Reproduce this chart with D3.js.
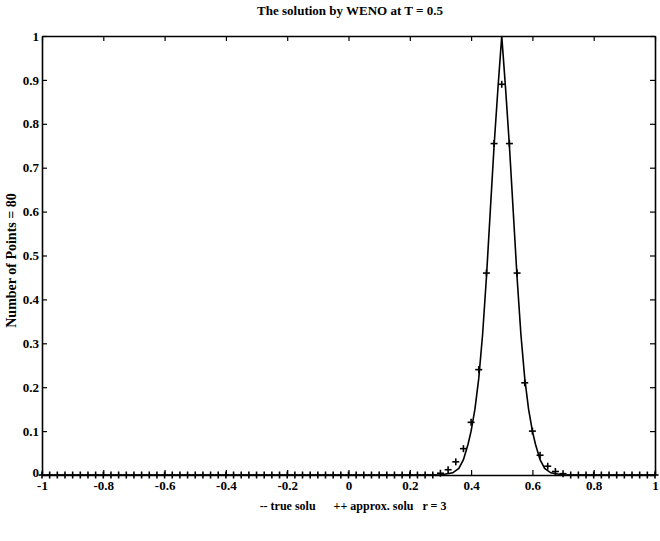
<!DOCTYPE html>
<html><head><meta charset="utf-8">
<script src="https://cdn.jsdelivr.net/npm/d3@7"></script>
<style>body{margin:0;background:#fff}svg{display:block}text{font-family:"Liberation Serif","Times New Roman",serif;fill:#000}</style>
</head><body>
<script>
// approximate solution sample points (x grid)
const approxX = d3.range(0, 81).map(j => -1 + j * 0.025);
const approxNonZero = {
  "0.300": 0.004, "0.325": 0.012, "0.350": 0.03, "0.375": 0.06, "0.400": 0.12,
  "0.425": 0.24, "0.450": 0.46, "0.475": 0.755, "0.500": 0.89,
  "0.525": 0.755, "0.550": 0.46, "0.575": 0.21, "0.600": 0.10, "0.625": 0.045,
  "0.650": 0.02, "0.675": 0.008, "0.700": 0.003
};
const approxY = approxX.map(x => approxNonZero[x.toFixed(3)] || 0);

// true solution curve points
const trueX = [-1, 0.30, 0.34, 0.36, 0.375, 0.39, 0.40, 0.4125, 0.425, 0.4375, 0.45, 0.4625, 0.475, 0.4875, 0.5,
               0.5125, 0.525, 0.5375, 0.55, 0.5625, 0.575, 0.5875, 0.60, 0.61, 0.625, 0.64, 0.66, 0.70, 1];
const trueY = [0, 0, 0.005, 0.015, 0.035, 0.07, 0.10, 0.15, 0.22, 0.32, 0.45, 0.60, 0.75, 0.88, 1.0,
               0.88, 0.75, 0.60, 0.45, 0.32, 0.22, 0.15, 0.10, 0.07, 0.035, 0.015, 0.005, 0, 0];

const xTicks = [-1, -0.8, -0.6, -0.4, -0.2, 0, 0.2, 0.4, 0.6, 0.8, 1];
const yTicks = [0, 0.1, 0.2, 0.3, 0.4, 0.5, 0.6, 0.7, 0.8, 0.9, 1];

const titleText = "The solution by WENO at T = 0.5";
const yLabelText = "Number of Points = 80";
const xLabelText = "-- true solu      ++ approx. solu   r = 3";

const W = 660, H = 541;
const m = {left: 42, right: 5, top: 36, bottom: 66};
const svg = d3.select("body").append("svg").attr("width", W).attr("height", H);

const x = d3.scaleLinear().domain([-1, 1]).range([m.left, W - m.right]);
const y = d3.scaleLinear().domain([0, 1]).range([H - m.bottom, m.top]);

const fmt = d => String(d);
const tl = 5;

// axes (ticks inward, box style)
const gB = svg.append("g").attr("transform", `translate(0,${H - m.bottom})`)
  .call(d3.axisBottom(x).tickValues(xTicks).tickFormat(fmt).tickSizeInner(-tl).tickSizeOuter(0).tickPadding(6));
const gT = svg.append("g").attr("transform", `translate(0,${m.top})`)
  .call(d3.axisTop(x).tickValues(xTicks).tickFormat("").tickSizeInner(-tl).tickSizeOuter(0));
const gL = svg.append("g").attr("transform", `translate(${m.left},0)`)
  .call(d3.axisLeft(y).tickValues(yTicks).tickFormat(fmt).tickSizeInner(-tl).tickSizeOuter(0).tickPadding(3));
const gR = svg.append("g").attr("transform", `translate(${W - m.right},0)`)
  .call(d3.axisRight(y).tickValues(yTicks).tickFormat("").tickSizeInner(-tl).tickSizeOuter(0));
[gB, gT, gL, gR].forEach(g => {
  g.selectAll(".domain").attr("stroke", "#000").attr("stroke-width", 1.6);
  g.selectAll(".tick line").attr("stroke", "#000").attr("stroke-width", 1.2);
  g.selectAll("text").attr("font-size", 13).attr("font-family", "Liberation Serif").attr("font-weight", "bold").attr("fill", "#000");
});
// nudge the y "0" label up so it clears the x "-1" label
gL.selectAll(".tick").filter(d => d === 0).select("text").attr("dy", "0.1em");

// true solution line
const line = d3.line().x((d, i) => x(trueX[i])).y((d, i) => y(trueY[i]));
svg.append("path").datum(trueY).attr("d", line).attr("fill", "none").attr("stroke", "#000").attr("stroke-width", 1.6);

// approx solution '+' markers
const cs = 3.5;
const pts = svg.append("g").selectAll("g").data(approxX).join("g")
  .attr("transform", (d, i) => `translate(${x(d)},${y(approxY[i])})`);
pts.append("line").attr("x1", -cs).attr("x2", cs).attr("stroke", "#000").attr("stroke-width", 1.6);
pts.append("line").attr("y1", -cs).attr("y2", cs).attr("stroke", "#000").attr("stroke-width", 1.6);

// title and labels
svg.append("text").attr("x", 350).attr("y", 15).attr("text-anchor", "middle")
  .attr("font-size", 13).attr("font-weight", "bold").text(titleText);
svg.append("text").attr("x", 353).attr("y", 510).attr("text-anchor", "middle")
  .attr("font-size", 12).attr("font-weight", "bold").attr("xml:space", "preserve").style("white-space", "pre").text(xLabelText);
svg.append("text").attr("transform", `translate(16,${(m.top + H - m.bottom) / 2 + 5}) rotate(-90)`)
  .attr("text-anchor", "middle").attr("font-size", 14).attr("font-weight", "bold").text(yLabelText);
</script>
</body></html>
